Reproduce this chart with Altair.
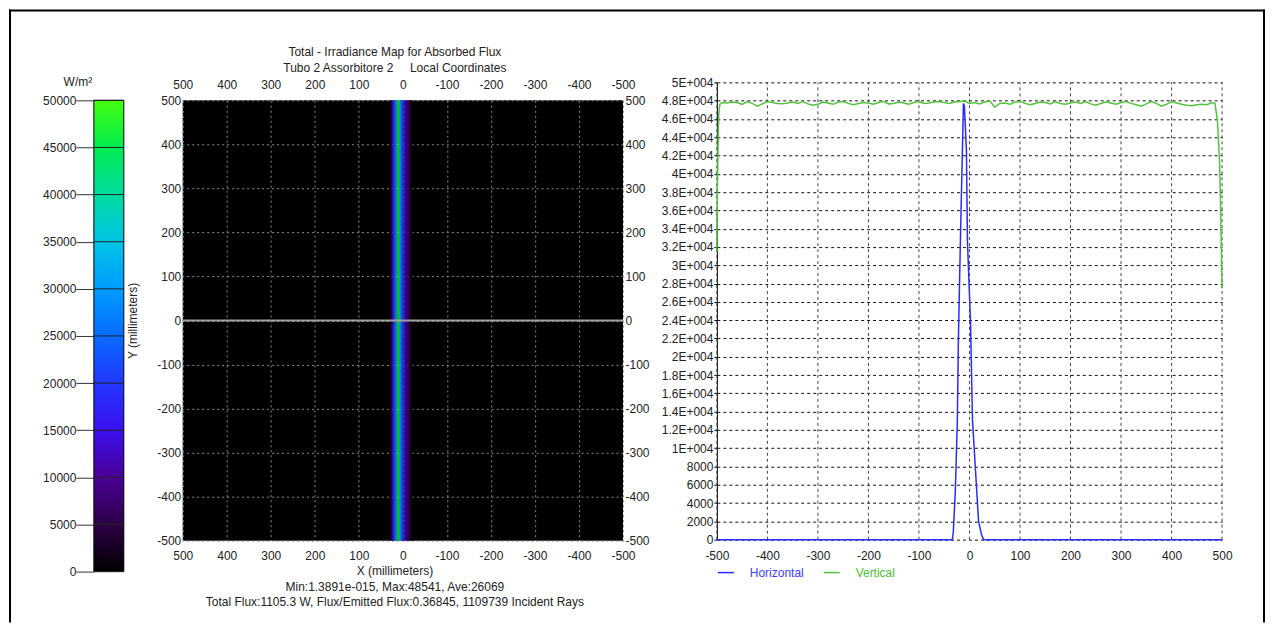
import altair as alt
import pandas as pd

FONT = "Liberation Sans"
TXT = "#222222"
BLUE = "#2b2bff"
GREEN = "#52c43c"

# ---------------- data ----------------
cbar_ticks = [0, 5000, 10000, 15000, 20000, 25000, 30000, 35000, 40000, 45000, 50000]
cmap_values = [0, 5000, 10000, 15000, 20000, 25000, 30000, 35000, 40000, 45000, 50000]
cmap_colors = ["#000000", "#2c0046", "#4a0096", "#3c10f0", "#2238ff", "#0a6cff",
               "#009cff", "#00c4e6", "#00dca0", "#00ec50", "#44ff10"]

# irradiance map: vertical stripe columns (mm) and their values (W/m2)
stripe_x0 = [28, 26, 24, 22, 20, 18, 16, 14, 12, 10, 8, 6, 4, 2, 0, -2, -4, -6, -8, -10, -12, -14, -16, -18, -20]
stripe_x1 = [26, 24, 22, 20, 18, 16, 14, 12, 10, 8, 6, 4, 2, 0, -2, -4, -6, -8, -10, -12, -14, -16, -18, -20, -22]
stripe_val = [3000, 8000, 13000, 18000, 22000, 26000, 31000, 40000, 46000, 48000, 44000, 30000, 24000,
              21000, 19000, 17000, 14000, 11000, 9000, 7500, 6000, 4500, 3000, 2000, 1000]

heat_ticks = [-500, -400, -300, -200, -100, 0, 100, 200, 300, 400, 500]

# profiles
prof_x_ticks = [-500, -400, -300, -200, -100, 0, 100, 200, 300, 400, 500]
prof_y_ticks = list(range(0, 50001, 2000))

horiz_x = [-500, -34, -32, -28, -24, -22, -18, -14, -12, -10, -6, -4, 2, 6, 12, 18, 24, 28, 500]
horiz_y = [0, 0, 800, 5300, 13000, 21700, 32600, 42500, 47700, 47400, 42500, 32600, 23900, 13000,
           7500, 2000, 500, 0, 0]

vert_x = [-500, -499, -498, -497, -496, -494, -490] + list(range(-480, 481, 10)) + [486, 491, 495, 497, 499, 500]
vert_y = [31500, 38000, 41800, 45000, 46800, 47600, 47800,
          47750, 47850, 47800, 47600, 47900, 47700, 47400, 47650, 47900, 47800,
          47700, 47650, 47750, 47850, 47700, 47900, 47650, 47500, 47600, 47850,
          47750, 47600, 47850, 47900, 47700, 47550, 47700, 47800, 47750, 47600,
          47800, 47900, 47650, 47700, 47850, 47750, 47600, 47800, 47900, 47700,
          47750, 47850, 47900, 47800, 47700, 47850, 47900, 47950, 47700, 47800,
          47650, 47850, 47950, 47300, 47700, 47750, 47600, 47850, 47900, 47700,
          47550, 47700, 47850, 47800, 47650, 47900, 47700, 47600, 47750, 47850,
          47700, 47900, 47650, 47500, 47700, 47850, 47750, 47600, 47800, 47900,
          47700, 47550, 47400, 47650, 47900, 47700, 47400, 47600, 47900, 47750,
          47600, 47500, 47450, 47550, 47600, 47550, 47800,
          47700, 45700, 41400, 36700, 30500, 27500]

title_main = "Total - Irradiance Map for Absorbed Flux"
title_sub = "Tubo 2 Assorbitore 2\u00a0\u00a0\u00a0\u00a0 Local Coordinates"
x_title_lines = ["X (millimeters)",
                 "Min:1.3891e-015, Max:48541, Ave:26069",
                 "Total Flux:1105.3 W, Flux/Emitted Flux:0.36845, 1109739 Incident Rays"]

# ---------------- irradiance map panel ----------------
hx = alt.Scale(domain=[-500, 500], reverse=True, nice=False, zero=False)
hy = alt.Scale(domain=[-500, 500], nice=False, zero=False)
plain = "'' + datum.value"

sdf = pd.DataFrame({"x0": stripe_x0, "x1": stripe_x1, "v": stripe_val,
                    "y0": [-500] * len(stripe_val), "y1": [500] * len(stripe_val)})

stripe = alt.Chart(sdf).mark_rect().encode(
    x=alt.X("x0:Q", scale=hx, axis=alt.Axis(
        orient="bottom", values=heat_ticks, grid=True, gridColor="#8c8c8c", gridDash=[2, 3],
        ticks=False, domain=False, labelPadding=10, labelFlush=False, labelOverlap=False,
        labelExpr=plain, title=x_title_lines, titleX=212, titleY=25, titleAlign="center",
        titleBaseline="top", titleLineHeight=15.5, titleFontWeight="normal", titleFontSize=12,
        titleColor=TXT)),
    x2="x1:Q",
    y=alt.Y("y0:Q", scale=hy, axis=alt.Axis(
        orient="left", values=heat_ticks, grid=True, gridColor="#8c8c8c", gridDash=[2, 3],
        ticks=False, domain=False, labelPadding=2, labelOverlap=False, labelExpr=plain,
        title="Y (millimeters)", titleX=-50, titleY=220.5, titleAlign="center",
        titleBaseline="middle", titleFontWeight="normal", titleFontSize=12, titleColor=TXT)),
    y2="y1:Q",
    color=alt.Color("v:Q", scale=alt.Scale(domain=cmap_values, range=cmap_colors, interpolate="rgb"),
                    legend=None),
)

zdf = pd.DataFrame({"a": [-500], "b": [500], "y": [0]})
zero_line = alt.Chart(zdf).mark_rule(color="#a0a0a0", strokeWidth=2).encode(
    x=alt.X("a:Q", scale=hx, axis=alt.Axis(
        orient="top", values=heat_ticks, grid=False, ticks=False, domain=False, labelPadding=9,
        labelFlush=False, labelOverlap=False, labelExpr=plain, title=None)),
    x2="b:Q",
    y=alt.Y("y:Q", scale=hy, axis=alt.Axis(
        orient="right", values=heat_ticks, grid=False, ticks=False, domain=False, labelPadding=2,
        labelOverlap=False, labelExpr=plain, title=None)),
)

# colour bar (drawn through its own scales, placed left of the map)
cb_x = alt.Scale(domain=[0, 1], range=[-89, -59])
cb_y = alt.Scale(domain=[0, 50000], range=[472, 0], nice=False)
grad = alt.LinearGradient(
    gradient="linear",
    stops=[alt.GradientStop(offset=v / 50000, color=c) for v, c in zip(cmap_values, cmap_colors)],
    x1=0, x2=0, y1=1, y2=0)
cdf = pd.DataFrame({"c0": [0], "c1": [1], "v0": [0], "v1": [50000]})
cbar = alt.Chart(cdf).mark_rect(fill=grad, stroke="black", strokeWidth=1).encode(
    x=alt.X("c0:Q", scale=cb_x, axis=None),
    x2="c1:Q",
    y=alt.Y("v0:Q", scale=cb_y, axis=alt.Axis(
        orient="left", offset=89, values=cbar_ticks, grid=False, domain=False, tickSize=18,
        tickColor="#333333", labelPadding=0, labelOverlap=False, labelExpr=plain,
        title="W/m²", titleAngle=0, titleX=-16.5, titleY=-19, titleAlign="center",
        titleBaseline="middle", titleFontWeight="normal", titleFontSize=12, titleColor=TXT)),
    y2="v1:Q",
)
ctdf = pd.DataFrame({"t": cbar_ticks, "c0": [0] * len(cbar_ticks), "c1": [1] * len(cbar_ticks)})
cbar_lines = alt.Chart(ctdf).mark_rule(color="#222222", strokeWidth=1).encode(
    x=alt.X("c0:Q", scale=cb_x, axis=None),
    x2="c1:Q",
    y=alt.Y("t:Q", scale=cb_y, axis=None),
)

heat = alt.layer(stripe, zero_line, cbar, cbar_lines).resolve_scale(
    x="independent", y="independent", color="independent"
).properties(
    width=441, height=441,
    view=alt.ViewBackground(fill="black", stroke=None),
    title=alt.TitleParams(
        text=title_main, subtitle=title_sub, anchor="middle", dx=-8, offset=0,
        fontSize=12, subtitleFontSize=12, fontWeight="normal", font=FONT, subtitleFont=FONT,
        color=TXT, subtitleColor=TXT, subtitlePadding=4),
)

# ---------------- profile panel ----------------
rx = alt.Scale(domain=[-500, 500], nice=False, zero=False)
ry = alt.Scale(domain=[0, 50000], range=[440, -18], nice=False)

x_axis_r = alt.Axis(values=prof_x_ticks, grid=False, domain=False, tickSize=0, labelPadding=10,
                    labelFlush=False, labelOverlap=False, labelExpr=plain, title=None)
y_axis_r = alt.Axis(values=prof_y_ticks, grid=True, gridColor="#111111", gridDash=[3, 3],
                    domain=True, domainColor="black", domainWidth=1, tickSize=3, tickColor="black",
                    labelPadding=1, labelOverlap=False, title=None,
                    labelExpr="datum.value >= 10000 ? ('' + datum.value / 10000) + 'E+004' : '' + datum.value")

series_scale = alt.Scale(domain=["Horizontal", "Vertical"], range=[BLUE, GREEN])
legend = alt.Legend(
    orient="none", legendX=0, legendY=464, direction="horizontal", title=None,
    symbolType="stroke", symbolSize=256, symbolStrokeWidth=1.5, labelOffset=15,
    columnPadding=16, padding=0, labelFontSize=12, labelFont=FONT,
    labelColor=alt.ExprRef(expr="datum.label == 'Horizontal' ? '#3c3cff' : '#4cbf30'"))

gdf = pd.DataFrame({"t": prof_x_ticks, "y0": [0] * len(prof_x_ticks), "y1": [50000] * len(prof_x_ticks)})
vgrid = alt.Chart(gdf).mark_rule(color="#444444", strokeDash=[3, 3], strokeWidth=1).encode(
    x=alt.X("t:Q", scale=rx, axis=x_axis_r),
    y=alt.Y("y0:Q", scale=ry, axis=y_axis_r),
    y2="y1:Q",
)

vdf = pd.DataFrame({"x": vert_x, "y": vert_y, "series": ["Vertical"] * len(vert_x)})
hdf = pd.DataFrame({"x": horiz_x, "y": horiz_y, "series": ["Horizontal"] * len(horiz_x)})

line_v = alt.Chart(vdf).mark_line(strokeWidth=1.5).encode(
    x=alt.X("x:Q", scale=rx, axis=x_axis_r),
    y=alt.Y("y:Q", scale=ry, axis=y_axis_r),
    color=alt.Color("series:N", scale=series_scale, legend=legend),
)
line_h = alt.Chart(hdf).mark_line(strokeWidth=1.5).encode(
    x=alt.X("x:Q", scale=rx, axis=x_axis_r),
    y=alt.Y("y:Q", scale=ry, axis=y_axis_r),
    color=alt.Color("series:N", scale=series_scale, legend=legend),
)

# outer frame (decoration), positioned relative to this panel's plot origin
one = pd.DataFrame({"k": [0]})
frame_left = alt.Chart(one).mark_rule(color="black", strokeWidth=2).encode(
    x=alt.value(-708), y=alt.value(-91), y2=alt.value(523))
frame_top = alt.Chart(one).mark_rule(color="black", strokeWidth=2).encode(
    x=alt.value(-709), x2=alt.value(549), y=alt.value(-90))
frame_right = alt.Chart(one).mark_rule(color="black", strokeWidth=2).encode(
    x=alt.value(548), y=alt.value(-91), y2=alt.value(523))

profile = alt.layer(vgrid, line_v, line_h, frame_left, frame_top, frame_right).properties(
    width=506, height=441)

chart = alt.hconcat(heat, profile, spacing=94, bounds="flush").resolve_scale(
    color="independent"
).properties(
    padding=0
).configure(
    font=FONT
).configure_axis(
    labelFont=FONT, labelFontSize=12, labelColor=TXT, titleFont=FONT
).configure_view(
    stroke=None
)

chart.save("out.html", embed_options={"renderer": "svg", "actions": False})
